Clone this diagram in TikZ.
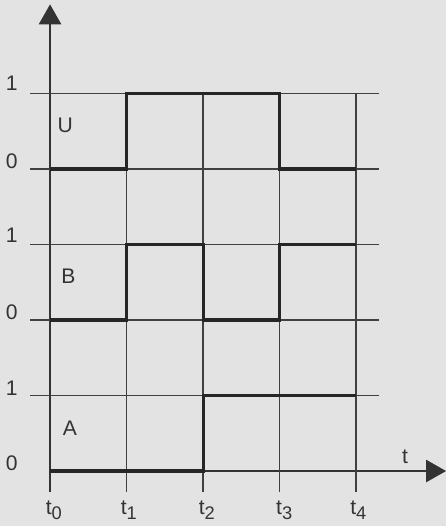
\documentclass[tikz,border=0pt]{standalone}
\usepackage{fontspec}
\setmainfont{Liberation Sans}
\usetikzlibrary{arrows.meta}
\newcommand{\tsub}[1]{t\raisebox{-0.45ex}{\fontsize{13}{14}\selectfont #1}}
\begin{document}
\begin{tikzpicture}[x=1.9125cm, y=1.8875cm, font=\fontsize{15}{17}\selectfont,
    grid line/.style={line width=0.9pt, draw=black!75},
    wave/.style={line width=2.2pt, draw=black!85, line join=miter},
    axis/.style={line width=0.9pt, draw=black!80, -{Triangle[length=0.5cm, width=0.56cm]}},
    lbl/.style={text=black!80, inner sep=0pt}]
        % Background and frame
        \fill[black!11] (-0.654,-0.728) rectangle (5.176,6.238);
        \useasboundingbox (-0.654,-0.728) rectangle (5.176,6.238);

        % Axes
        \coordinate (ybot) at (0,-0.28);
        \coordinate (ytip) at (0,6.18);
        \coordinate (tstart) at (0,0);
        \coordinate (ttip) at (5.176,0);
        \draw[axis] (ybot) -- (ytip);
        \draw[axis] (tstart) -- (ttip);

        % Draw grid
        \foreach \y in {1,...,5}
            \draw[grid line] (-0.26,\y) -- (4.3,\y);
        \foreach \x in {1,...,4}
            \draw[grid line] (\x,-0.28) -- (\x,5);

        % Draw signals
        \draw[wave] (0,4) -- (1,4) -- (1,5) -- (3,5) -- (3,4) -- (4,4);
        \draw[wave] (0,2) -- (1,2) -- (1,3) -- (2,3) -- (2,2) -- (3,2) -- (3,3) -- (4,3);
        \draw[wave] (0,0) -- (2,0) -- (2,1) -- (4,1);

        % Labels
        \node[lbl] (u1) at (-0.5,5.13) {1};
        \node[lbl] (u0) at (-0.5,4.1) {0};
        \node[lbl] (b1) at (-0.5,3.12) {1};
        \node[lbl] (b0) at (-0.5,2.1) {0};
        \node[lbl] (a1) at (-0.5,1.1) {1};
        \node[lbl] (a0) at (-0.5,0.1) {0};
        \node[lbl] (U) at (0.2,4.58) {U};
        \node[lbl] (B) at (0.24,2.58) {B};
        \node[lbl] (A) at (0.26,0.57) {A};
        \node[lbl] (t) at (4.64,0.19) {t};
        \foreach \i/\x in {0/0.05,1/1.03,2/2.05,3/3.06,4/4.03}
            \node[lbl] (t\i) at (\x,-0.52) {\tsub{\i}};
\end{tikzpicture}
\end{document}
